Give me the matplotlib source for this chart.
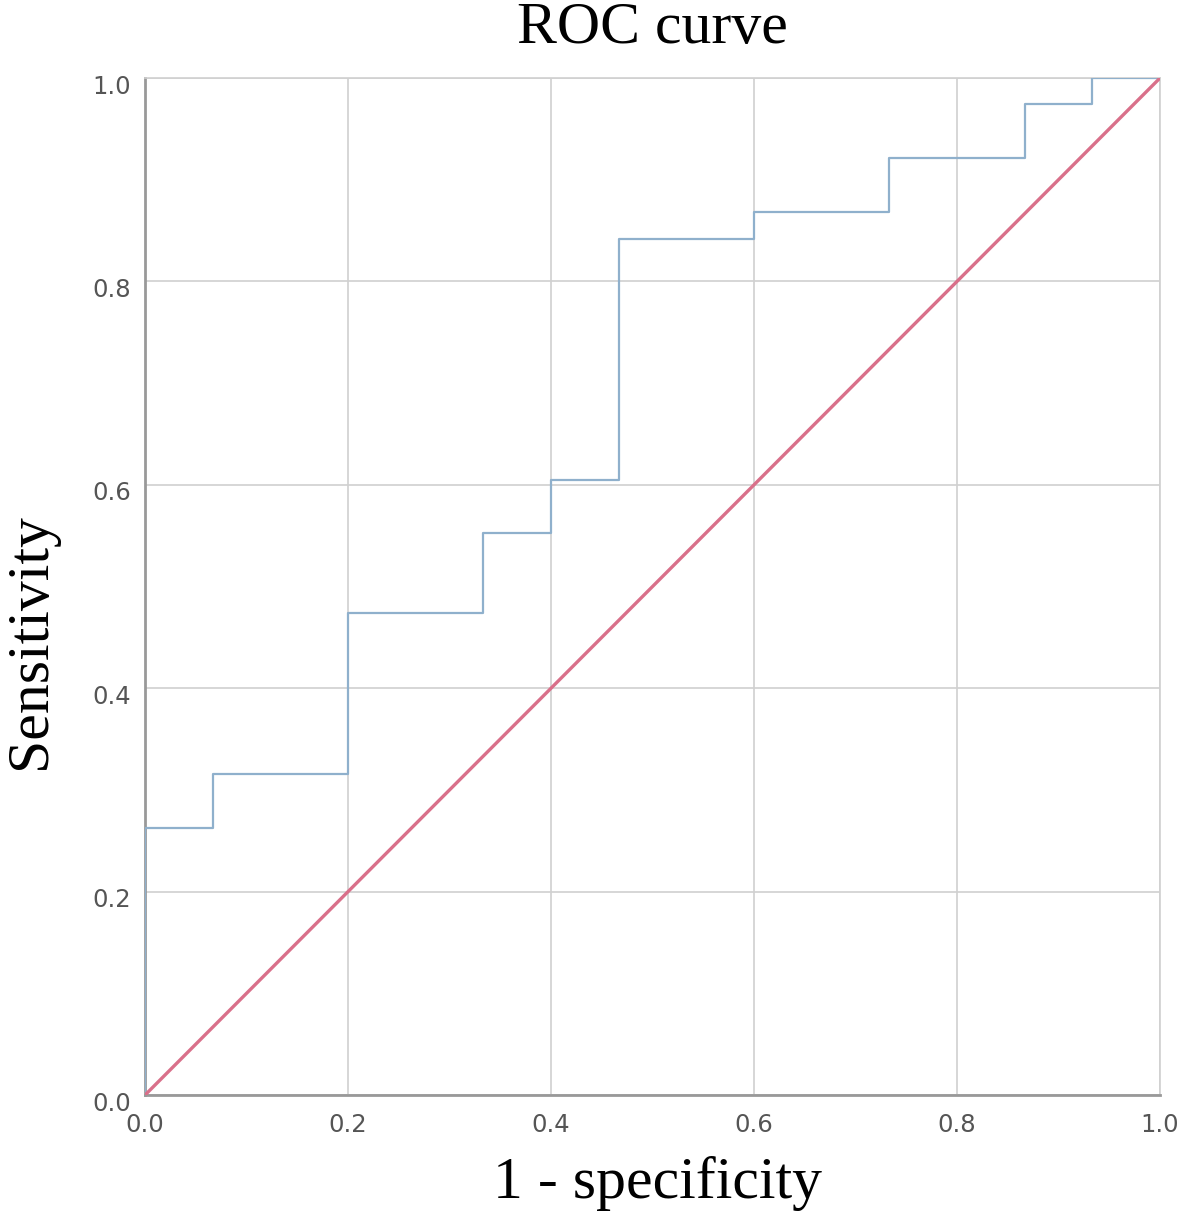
#!/usr/bin/env python3

import matplotlib
matplotlib.use("Agg")
import matplotlib.pyplot as plt
import matplotlib.transforms as mtransforms

# ROC step points (1 - specificity, sensitivity)
fpr = [0.0, 0.0, 0.0667, 0.0667, 0.2, 0.2, 0.333, 0.333, 0.4, 0.4,
       0.467, 0.467, 0.6, 0.6, 0.733, 0.733, 0.867, 0.867, 0.933, 0.933, 1.0]
tpr = [0.0, 0.263, 0.263, 0.316, 0.316, 0.474, 0.474, 0.553, 0.553, 0.605,
       0.605, 0.842, 0.842, 0.868, 0.868, 0.921, 0.921, 0.974, 0.974, 1.0, 1.0]

ref_x = [0.0, 1.0]
ref_y = [0.0, 1.0]

ticks = [0.0, 0.2, 0.4, 0.6, 0.8, 1.0]
tick_labels = ["0.0", "0.2", "0.4", "0.6", "0.8", "1.0"]


def plot_roc():
    fig = plt.figure(figsize=(11.81, 12.29), dpi=100)
    ax = fig.add_axes([0.1228, 0.109, 0.8594, 0.8275])

    ax.plot(fpr, tpr, color="#8fb0cc", linewidth=1.6, zorder=3)
    ax.plot(ref_x, ref_y, color="#d9708a", linewidth=2.4, zorder=4)

    ax.set_xlim(0, 1)
    ax.set_ylim(0, 1)
    ax.set_xticks(ticks)
    ax.set_yticks(ticks)
    ax.set_xticklabels(tick_labels)
    ax.set_yticklabels(tick_labels)
    ax.tick_params(length=0, labelsize=17.5, labelcolor="#555555")
    ax.tick_params(axis="x", pad=13)
    ax.tick_params(axis="y", pad=10)
    for lab in ax.get_xticklabels() + ax.get_yticklabels():
        lab.set_family("DejaVu Sans")
    # y tick labels sit a little below their gridline in the original
    shift = mtransforms.ScaledTranslation(0, -0.06, fig.dpi_scale_trans)
    for lab in ax.get_yticklabels():
        lab.set_transform(lab.get_transform() + shift)

    ax.grid(True, color="#d0d0d0", linewidth=1.2, zorder=0)

    for side in ["top", "right"]:
        ax.spines[side].set_color("#d0d0d0")
        ax.spines[side].set_linewidth(1.2)
    for side in ["left", "bottom"]:
        ax.spines[side].set_color("#999999")
        ax.spines[side].set_linewidth(2.0)

    serif = {"family": "Liberation Serif", "size": 43}
    ax.set_title("ROC curve", fontdict=serif, pad=25)
    ax.set_xlabel("1 - specificity", fontdict=serif)
    ax.set_ylabel("Sensitivity", fontdict=serif)
    ax.xaxis.set_label_coords(0.505, -0.06)
    ax.yaxis.set_label_coords(-0.086, 0.446)

    fig.savefig("out.png", dpi=100, facecolor="white")


if __name__ == "__main__":
    plot_roc()
